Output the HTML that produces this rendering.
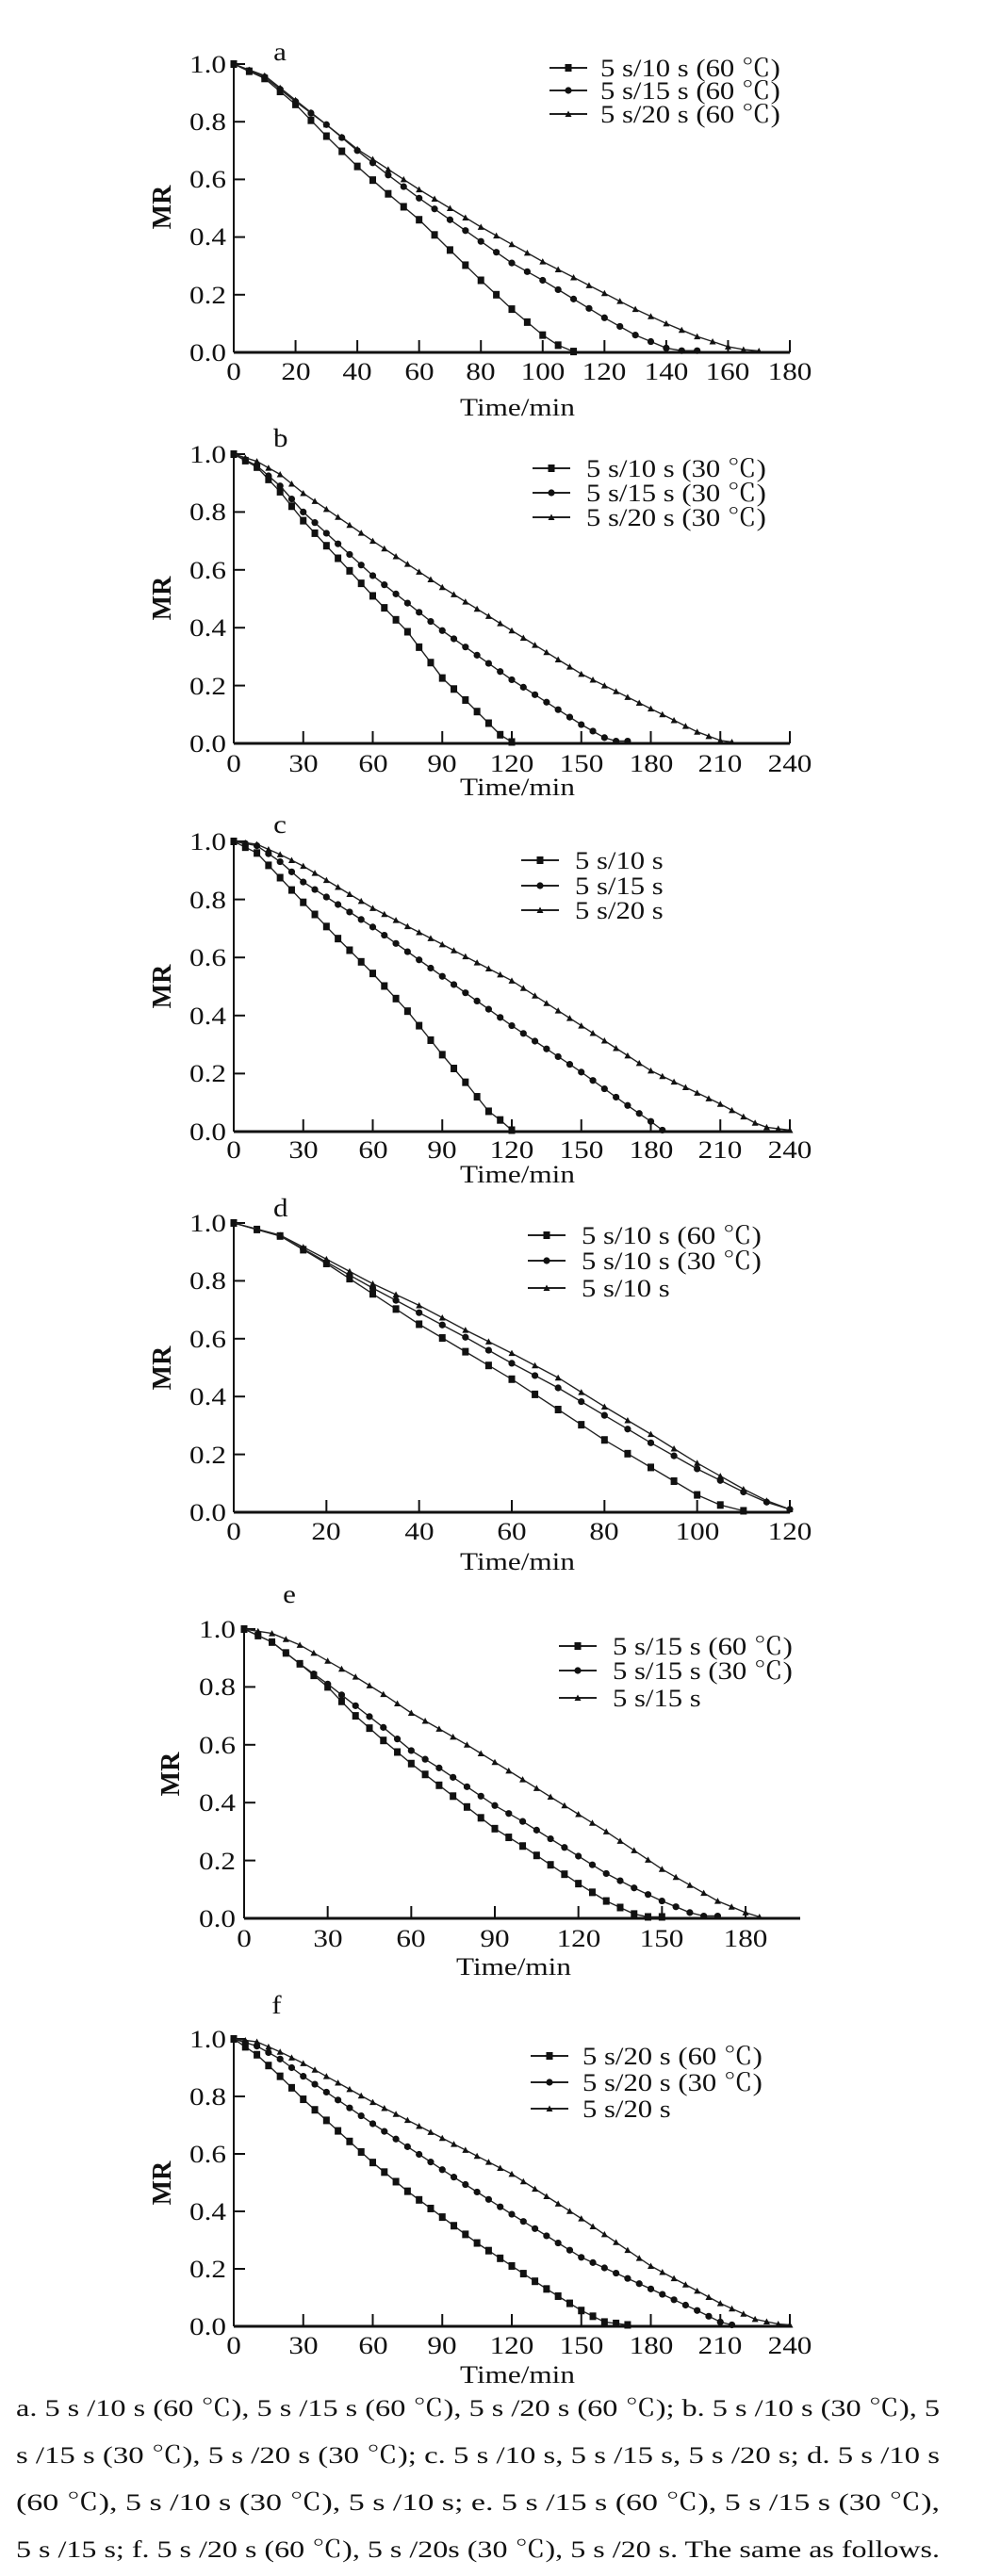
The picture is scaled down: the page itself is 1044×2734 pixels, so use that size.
<!DOCTYPE html>
<html><head><meta charset="utf-8">
<style>
html,body{margin:0;padding:0;background:#fff;}
svg{display:block;}
text{font-family:"Liberation Serif","Noto Serif CJK SC",serif;fill:#111;}
.t{font-size:27px;transform:scaleX(1.15);transform-box:fill-box;transform-origin:center;}
.ty{font-size:26px;text-anchor:end;transform:scaleX(1.2);transform-box:fill-box;transform-origin:right center;}
.tx{font-size:26px;text-anchor:middle;transform:scaleX(1.2);transform-box:fill-box;transform-origin:center;}
.mr{font-size:28px;font-weight:bold;text-anchor:middle;}
.lg{font-size:26px;transform:scaleX(1.18);transform-box:fill-box;transform-origin:left center;}
.cap{font-size:25px;}
</style></head>
<body>
<svg id="s" width="1044" height="2734" viewBox="0 0 1044 2734" xmlns="http://www.w3.org/2000/svg">
<g id="plots"></g>

<!-- Panel a -->
<text class="t" x="291" y="64">a</text>
<text class="ty" x="240" y="77">1.0</text><text class="ty" x="240" y="138">0.8</text><text class="ty" x="240" y="199">0.6</text><text class="ty" x="240" y="260">0.4</text><text class="ty" x="240" y="322">0.2</text><text class="ty" x="240" y="383">0.0</text>
<text class="tx" x="248" y="403">0</text><text class="tx" x="314" y="403">20</text><text class="tx" x="379" y="403">40</text><text class="tx" x="445" y="403">60</text><text class="tx" x="510" y="403">80</text><text class="tx" x="576" y="403">100</text><text class="tx" x="641" y="403">120</text><text class="tx" x="707" y="403">140</text><text class="tx" x="772" y="403">160</text><text class="tx" x="838" y="403">180</text>
<text class="tx" x="549" y="441">Time/min</text>
<text class="mr" transform="translate(181,220) rotate(-90)">MR</text>
<text class="lg" x="637" y="81">5 s/10 s (60 ℃)</text><text class="lg" x="637" y="105">5 s/15 s (60 ℃)</text><text class="lg" x="637" y="130">5 s/20 s (60 ℃)</text>
<text x="290" y="462" style="font-size:12px">1.</text>

<!-- Panel b -->
<text class="t" x="291" y="474">b</text>
<text class="ty" x="240" y="491">1.0</text><text class="ty" x="240" y="552">0.8</text><text class="ty" x="240" y="614">0.6</text><text class="ty" x="240" y="675">0.4</text><text class="ty" x="240" y="737">0.2</text><text class="ty" x="240" y="798">0.0</text>
<text class="tx" x="248" y="819">0</text><text class="tx" x="322" y="819">30</text><text class="tx" x="396" y="819">60</text><text class="tx" x="469" y="819">90</text><text class="tx" x="543" y="819">120</text><text class="tx" x="617" y="819">150</text><text class="tx" x="691" y="819">180</text><text class="tx" x="764" y="819">210</text><text class="tx" x="838" y="819">240</text>
<text class="tx" x="549" y="844">Time/min</text>
<text class="mr" transform="translate(181,635) rotate(-90)">MR</text>
<text class="lg" x="622" y="506">5 s/10 s (30 ℃)</text><text class="lg" x="622" y="532">5 s/15 s (30 ℃)</text><text class="lg" x="622" y="558">5 s/20 s (30 ℃)</text>

<!-- Panel c -->
<text class="t" x="291" y="884">c</text>
<text class="ty" x="240" y="902">1.0</text><text class="ty" x="240" y="964">0.8</text><text class="ty" x="240" y="1025">0.6</text><text class="ty" x="240" y="1087">0.4</text><text class="ty" x="240" y="1148">0.2</text><text class="ty" x="240" y="1210">0.0</text>
<text class="tx" x="248" y="1229">0</text><text class="tx" x="322" y="1229">30</text><text class="tx" x="396" y="1229">60</text><text class="tx" x="469" y="1229">90</text><text class="tx" x="543" y="1229">120</text><text class="tx" x="617" y="1229">150</text><text class="tx" x="691" y="1229">180</text><text class="tx" x="764" y="1229">210</text><text class="tx" x="838" y="1229">240</text>
<text class="tx" x="549" y="1255">Time/min</text>
<text class="mr" transform="translate(181,1047) rotate(-90)">MR</text>
<text class="lg" x="610" y="922">5 s/10 s</text><text class="lg" x="610" y="949">5 s/15 s</text><text class="lg" x="610" y="975">5 s/20 s</text>

<!-- Panel d -->
<text class="t" x="291" y="1291">d</text>
<text class="ty" x="240" y="1307">1.0</text><text class="ty" x="240" y="1368">0.8</text><text class="ty" x="240" y="1430">0.6</text><text class="ty" x="240" y="1491">0.4</text><text class="ty" x="240" y="1553">0.2</text><text class="ty" x="240" y="1614">0.0</text>
<text class="tx" x="248" y="1634">0</text><text class="tx" x="346" y="1634">20</text><text class="tx" x="445" y="1634">40</text><text class="tx" x="543" y="1634">60</text><text class="tx" x="641" y="1634">80</text><text class="tx" x="740" y="1634">100</text><text class="tx" x="838" y="1634">120</text>
<text class="tx" x="549" y="1666">Time/min</text>
<text class="mr" transform="translate(181,1452) rotate(-90)">MR</text>
<text class="lg" x="617" y="1320">5 s/10 s (60 ℃)</text><text class="lg" x="617" y="1347">5 s/10 s (30 ℃)</text><text class="lg" x="617" y="1376">5 s/10 s</text>

<!-- Panel e -->
<text class="t" x="301" y="1701">e</text>
<text class="ty" x="250" y="1738">1.0</text><text class="ty" x="250" y="1799">0.8</text><text class="ty" x="250" y="1861">0.6</text><text class="ty" x="250" y="1922">0.4</text><text class="ty" x="250" y="1984">0.2</text><text class="ty" x="250" y="2045">0.0</text>
<text class="tx" x="259" y="2066">0</text><text class="tx" x="348" y="2066">30</text><text class="tx" x="436" y="2066">60</text><text class="tx" x="525" y="2066">90</text><text class="tx" x="614" y="2066">120</text><text class="tx" x="702" y="2066">150</text><text class="tx" x="791" y="2066">180</text>
<text class="tx" x="545" y="2096">Time/min</text>
<text class="mr" transform="translate(190,1883) rotate(-90)">MR</text>
<text class="lg" x="650" y="1756">5 s/15 s (60 ℃)</text><text class="lg" x="650" y="1782">5 s/15 s (30 ℃)</text><text class="lg" x="650" y="1811">5 s/15 s</text>

<!-- Panel f -->
<text class="t" x="289" y="2137">f</text>
<text class="ty" x="240" y="2173">1.0</text><text class="ty" x="240" y="2234">0.8</text><text class="ty" x="240" y="2295">0.6</text><text class="ty" x="240" y="2356">0.4</text><text class="ty" x="240" y="2417">0.2</text><text class="ty" x="240" y="2478">0.0</text>
<text class="tx" x="248" y="2498">0</text><text class="tx" x="322" y="2498">30</text><text class="tx" x="396" y="2498">60</text><text class="tx" x="469" y="2498">90</text><text class="tx" x="543" y="2498">120</text><text class="tx" x="617" y="2498">150</text><text class="tx" x="691" y="2498">180</text><text class="tx" x="764" y="2498">210</text><text class="tx" x="838" y="2498">240</text>
<text class="tx" x="549" y="2529">Time/min</text>
<text class="mr" transform="translate(181,2317) rotate(-90)">MR</text>
<text class="lg" x="618" y="2191">5 s/20 s (60 ℃)</text><text class="lg" x="618" y="2219">5 s/20 s (30 ℃)</text><text class="lg" x="618" y="2247">5 s/20 s</text>

<!-- Caption -->
<text class="cap" x="17" y="2564" textLength="980" lengthAdjust="spacingAndGlyphs">a. 5 s /10 s (60 ℃), 5 s /15 s (60 ℃),  5 s /20 s (60 ℃); b.  5 s /10 s (30 ℃), 5</text>
<text class="cap" x="17" y="2614" textLength="980" lengthAdjust="spacingAndGlyphs">s /15 s (30 ℃),  5 s /20 s (30 ℃); c. 5 s /10 s, 5 s /15 s,  5 s /20 s; d. 5 s /10 s</text>
<text class="cap" x="17" y="2664" textLength="980" lengthAdjust="spacingAndGlyphs">(60 ℃), 5 s /10 s (30 ℃),  5 s /10 s; e. 5 s /15 s (60 ℃), 5 s /15 s (30 ℃),</text>
<text class="cap" x="17" y="2714" textLength="980" lengthAdjust="spacingAndGlyphs">5 s /15 s; f. 5 s /20 s (60 ℃), 5 s /20s (30 ℃),  5 s /20 s. The same as follows.</text>
</svg>
<script>
var NS="http://www.w3.org/2000/svg",G=document.getElementById("plots");
function el(n,a){var e=document.createElementNS(NS,n);for(var k in a)e.setAttribute(k,a[k]);G.appendChild(e);return e;}
function interp(keys,t){for(var i=0;i<keys.length-1;i++){var a=keys[i],b=keys[i+1];if(t>=a[0]&&t<=b[0]){return a[1]+(b[1]-a[1])*(t-a[0])/(b[0]-a[0]);}}return keys[keys.length-1][1];}
function marker(type,x,y){
 if(type==0){el("rect",{x:x-3.5,y:y-4,width:7,height:8,fill:"#111"});}
 else if(type==1){el("circle",{cx:x,cy:y,r:3.6,fill:"#111"});}
 else{el("path",{d:"M"+(x-3.5)+","+(y+3)+"L"+x+","+(y-3.5)+"L"+(x+3.5)+","+(y+3)+"Z",fill:"#111"});}
}
var P=[
{x0:248,x1:838,xr:180,tk:20,xa:838,y1:68,y0:374,lx:[583,623],ly:[72,96,121],S:[
[[0,1],[10,.95],[20,.86],[30,.75],[40,.645],[50,.55],[60,.46],[70,.355],[80,.25],[90,.15],[100,.06],[105,.025],[110,.003]],
[[0,1],[10,.955],[20,.87],[30,.79],[40,.70],[50,.615],[60,.535],[70,.46],[80,.385],[90,.31],[100,.25],[110,.185],[120,.12],[130,.06],[140,.015],[145,.006],[150,.006]],
[[0,1],[10,.96],[20,.875],[30,.79],[40,.705],[50,.635],[60,.565],[70,.5],[80,.435],[90,.375],[100,.315],[110,.26],[120,.205],[130,.15],[140,.1],[150,.055],[160,.02],[165,.01],[170,.005]]]},
{x0:248,x1:838,xr:240,tk:30,xa:838,y1:482,y0:789,lx:[565,605],ly:[497,523,549],S:[
[[0,1],[10,.955],[20,.87],[30,.77],[45,.64],[60,.51],[75,.386],[90,.226],[100,.15],[110,.07],[115,.03],[120,.005]],
[[0,1],[10,.96],[20,.89],[30,.80],[60,.58],[90,.39],[120,.22],[150,.065],[160,.02],[165,.008],[170,.008]],
[[0,1],[10,.975],[20,.93],[30,.865],[60,.70],[90,.54],[120,.39],[150,.24],[180,.12],[200,.04],[210,.01],[215,.005]]]},
{x0:248,x1:838,xr:240,tk:30,xa:838,y1:893,y0:1201,lx:[553,593],ly:[913,940,966],S:[
[[0,1],[10,.96],[20,.875],[30,.79],[45,.665],[60,.545],[75,.415],[90,.265],[100,.17],[110,.07],[115,.04],[120,.005]],
[[0,1],[10,.985],[20,.93],[30,.86],[60,.705],[90,.535],[120,.365],[150,.205],[170,.09],[180,.035],[185,.005]],
[[0,1],[10,.99],[20,.955],[30,.915],[60,.77],[90,.645],[120,.52],[150,.365],[180,.21],[210,.095],[225,.03],[230,.015],[235,.01],[240,.005]]]},
{x0:248,x1:838,xr:120,tk:20,xa:838,y1:1298,y0:1605,lx:[560,600],ly:[1311,1338,1367],S:[
[[0,1],[10,.955],[20,.86],[40,.65],[60,.46],[80,.25],[100,.06],[105,.025],[110,.005]],
[[0,1],[10,.955],[20,.865],[30,.775],[40,.69],[50,.605],[60,.515],[70,.43],[80,.335],[90,.24],[100,.15],[110,.07],[115,.035],[120,.01]],
[[0,1],[10,.958],[20,.875],[30,.79],[40,.715],[50,.63],[60,.55],[70,.465],[80,.365],[90,.27],[100,.17],[110,.08],[115,.04],[120,.01]]]},
{x0:259,x1:791,xr:180,tk:30,xa:849,y1:1729,y0:2036,lx:[593,633],ly:[1747,1773,1802],S:[
[[0,1],[10,.955],[20,.88],[30,.80],[40,.70],[50,.615],[60,.535],[70,.46],[80,.385],[90,.31],[100,.25],[110,.185],[120,.12],[130,.06],[140,.015],[145,.005],[150,.005]],
[[0,1],[10,.955],[20,.88],[30,.81],[40,.735],[50,.66],[60,.58],[70,.52],[80,.455],[90,.39],[100,.335],[110,.275],[120,.215],[130,.155],[140,.105],[150,.06],[160,.02],[165,.008],[170,.008]],
[[0,1],[10,.985],[20,.945],[30,.89],[40,.835],[50,.775],[60,.71],[70,.655],[80,.60],[90,.54],[100,.48],[110,.42],[120,.36],[130,.30],[140,.235],[150,.17],[160,.115],[170,.06],[180,.02],[185,.005]]]},
{x0:248,x1:838,xr:240,tk:30,xa:838,y1:2164,y0:2469,lx:[563,603],ly:[2182,2210,2238],S:[
[[0,1],[10,.945],[20,.87],[30,.79],[45,.68],[60,.57],[75,.47],[90,.38],[105,.29],[120,.21],[135,.13],[150,.055],[160,.015],[165,.01],[170,.005]],
[[0,1],[10,.975],[20,.93],[30,.87],[60,.705],[90,.545],[120,.39],[150,.24],[180,.13],[200,.055],[210,.015],[215,.005]],
[[0,1],[10,.99],[20,.955],[30,.915],[60,.78],[90,.655],[120,.53],[150,.375],[180,.21],[210,.08],[225,.025],[235,.008],[240,.005]]]}
];
P.forEach(function(p){
 var sx=(p.x1-p.x0)/p.xr, sy=p.y0-p.y1;
 el("line",{x1:p.x0,y1:p.y1-2,x2:p.x0,y2:p.y0,stroke:"#111","stroke-width":2});
 el("line",{x1:p.x0,y1:p.y0,x2:p.xa,y2:p.y0,stroke:"#111","stroke-width":3});
 for(var v=0;v<=1.0001;v+=0.2){var y=p.y0-v*sy;el("line",{x1:p.x0,y1:y,x2:p.x0+12,y2:y,stroke:"#111","stroke-width":2});}
 for(var t=p.tk;t<=p.xr+0.01;t+=p.tk){var x=p.x0+t*sx;el("line",{x1:x,y1:p.y0,x2:x,y2:p.y0-13,stroke:"#111","stroke-width":2});}
 p.S.forEach(function(k,si){
  var end=k[k.length-1][0],pts=[];
  for(var t=0;t<=end;t+=5){pts.push([p.x0+t*sx,p.y0-interp(k,t)*sy]);}
  el("polyline",{points:pts.map(function(q){return q[0].toFixed(1)+","+q[1].toFixed(1)}).join(" "),fill:"none",stroke:"#222","stroke-width":1.4});
  pts.forEach(function(q){marker(si,q[0],q[1]);});
  var ly=p.ly[si];
  el("line",{x1:p.lx[0],y1:ly,x2:p.lx[1],y2:ly,stroke:"#222","stroke-width":2});
  marker(si,(p.lx[0]+p.lx[1])/2,ly);
 });
});
</script>
</body></html>
